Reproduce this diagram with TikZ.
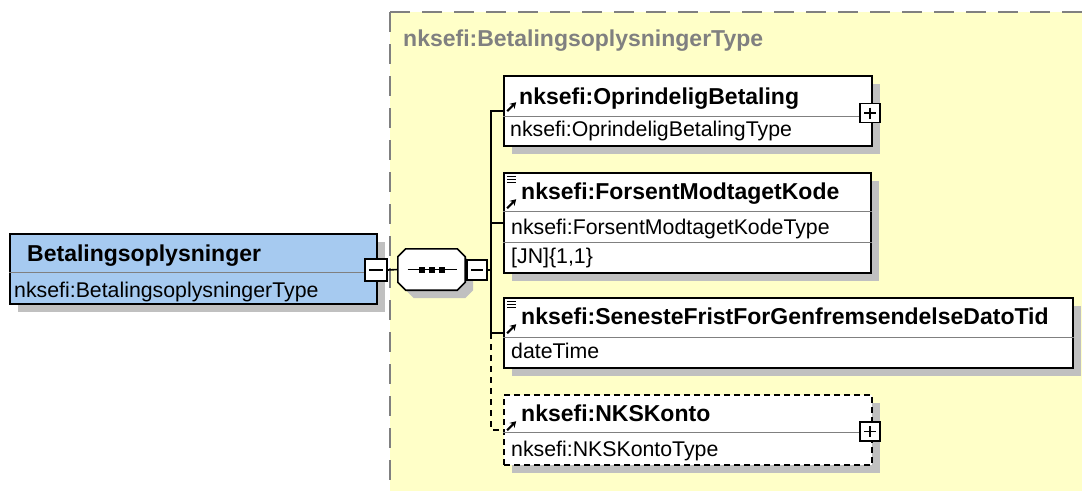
\documentclass[tikz,border=0pt]{standalone}
\usepackage{fontspec}
\setsansfont{Liberation Sans}
\usepackage{tikz}
\usetikzlibrary{shadows, arrows.meta, positioning}
\definecolor{elemblue}{RGB}{166,202,240}
\definecolor{paleyellow}{RGB}{255,255,200}
\definecolor{shadowgray}{RGB}{192,192,192}
\definecolor{framegray}{RGB}{128,128,128}
\tikzstyle{conn} = [line width=1.6pt]
\tikzstyle{element} = [rectangle, draw=black, line width=1.6pt, fill=white, inner sep=0pt, drop shadow={shadow xshift=8pt, shadow yshift=-8pt, fill=shadowgray, opacity=1}]
\tikzstyle{divider} = [framegray, line width=1pt]
\tikzstyle{titletext} = [font=\sffamily\bfseries\fontsize{23}{26}\selectfont, inner sep=0pt, anchor=base west]
\tikzstyle{typetext} = [font=\sffamily\fontsize{21.3}{24}\selectfont, inner sep=0pt, anchor=base west]
\tikzstyle{refmark} = [-{Stealth[length=6pt,width=7pt]}, line width=2.2pt]
\tikzstyle{simplemark} = [line width=1.4pt]

\begin{document}
\begin{tikzpicture}[x=1pt, y=-1pt,
        minusbox/.style={
            rectangle, draw=black, line width=1.2pt, fill=white,
            minimum width=20pt, minimum height=20pt, inner sep=0pt,
            path picture={\draw[line width=1.2pt] ([xshift=4pt]path picture bounding box.west) -- ([xshift=-4pt]path picture bounding box.east);}
        },
        plusbox/.style={
            rectangle, draw=black, line width=1.2pt, fill=white,
            minimum width=20pt, minimum height=19pt, inner sep=0pt,
            path picture={
                \draw[line width=1.2pt] ([xshift=4pt]path picture bounding box.west) -- ([xshift=-4pt]path picture bounding box.east);
                \draw[line width=1.2pt] ([yshift=-4pt]path picture bounding box.north) -- ([yshift=4pt]path picture bounding box.south);}
        },
        seqbox/.style={rectangle, minimum width=67pt, minimum height=41pt, inner sep=0pt}
    ]
        \useasboundingbox (0,0) rectangle (1082,491);

        % Complex type area
        \fill[paleyellow] (390,12) rectangle (1082,491);
        \draw[framegray, line width=2pt, dash pattern=on 20pt off 12pt] (390,12) -- (1082,12);
        \draw[framegray, line width=2pt, dash pattern=on 20pt off 12pt] (390,12) -- (390,491);
        \node[titletext, text=framegray] (typename) at (403,46) {nksefi:BetalingsoplysningerType};

        % Root element
        \node[element, fill=elemblue, minimum width=367pt, minimum height=70pt] (elem) at (193.5,269) {};
        \draw[divider] ([yshift=-39pt]elem.north west) -- ([yshift=-39pt]elem.north east);
        \node[titletext] (elemtitle) at (27,261) {Betalingsoplysninger};
        \node[typetext] (elemtype) at (14,297) {nksefi:BetalingsoplysningerType};
        \node[minusbox, minimum width=22pt, minimum height=22pt] (elemexp) at (376,270) {};

        % Sequence
        \node[seqbox] (seq) at (431.5,269.5) {};
        \begin{scope}[transform canvas={xshift=8pt, yshift=-8pt}]
        \fill[shadowgray]
            ([xshift=8pt]seq.north west) -- ([xshift=-8pt]seq.north east) -- ([yshift=-8pt]seq.north east)
            -- ([yshift=8pt]seq.south east) -- ([xshift=-8pt]seq.south east) -- ([xshift=8pt]seq.south west)
            -- ([yshift=8pt]seq.south west) -- ([yshift=-8pt]seq.north west) -- cycle;
        \end{scope}
        \draw[line width=1.6pt, fill=white]
            ([xshift=8pt]seq.north west) -- ([xshift=-8pt]seq.north east) -- ([yshift=-8pt]seq.north east)
            -- ([yshift=8pt]seq.south east) -- ([xshift=-8pt]seq.south east) -- ([xshift=8pt]seq.south west)
            -- ([yshift=8pt]seq.south west) -- ([yshift=-8pt]seq.north west) -- cycle;
        \draw[line width=1.2pt] ([xshift=-24pt]seq.center) -- ([xshift=25pt]seq.center);
        \foreach \dx in {-10,0,10}
            \fill ([xshift=\dx pt]seq.center) +(-3pt,-3pt) rectangle +(3pt,3pt);
        \node[minusbox] (seqexp) at (477,270) {};
        \coordinate (spine) at (491,270);

        % Child elements
        \node[element, minimum width=368pt, minimum height=70pt] (c1) at (688,111) {};
        \draw[divider] ([yshift=-41pt]c1.north west) -- ([yshift=-41pt]c1.north east);
        \draw[refmark] ([xshift=4pt,yshift=-36pt]c1.north west) -- ++(9pt,9pt);
        \node[titletext] (c1title) at (519,104) {nksefi:OprindeligBetaling};
        \node[typetext] (c1type) at (510,136) {nksefi:OprindeligBetalingType};
        \node[plusbox] (c1exp) at (870,113) {};

        \node[element, minimum width=367pt, minimum height=100pt] (c2) at (687.5,223) {};
        \draw[divider] ([yshift=-39pt]c2.north west) -- ([yshift=-39pt]c2.north east);
        \draw[divider] ([yshift=-70pt]c2.north west) -- ([yshift=-70pt]c2.north east);
        \foreach \dy in {4,7,10}
            \draw[simplemark] ([xshift=4pt,yshift=-\dy pt]c2.north west) -- ++(9pt,0pt);
        \draw[refmark] ([xshift=4pt,yshift=-36pt]c2.north west) -- ++(9pt,9pt);
        \node[titletext] (c2title) at (521,199) {nksefi:ForsentModtagetKode};
        \node[typetext] (c2type) at (511,234) {nksefi:ForsentModtagetKodeType};
        \node[typetext] (c2facet) at (511,263) {[JN]\{1,1\}};

        \node[element, minimum width=569pt, minimum height=70pt] (c3) at (788.5,333) {};
        \draw[divider] ([yshift=-40pt]c3.north west) -- ([yshift=-40pt]c3.north east);
        \foreach \dy in {4,7,10}
            \draw[simplemark] ([xshift=4pt,yshift=-\dy pt]c3.north west) -- ++(9pt,0pt);
        \draw[refmark] ([xshift=4pt,yshift=-36pt]c3.north west) -- ++(9pt,9pt);
        \node[titletext] (c3title) at (521,324) {nksefi:SenesteFristForGenfremsendelseDatoTid};
        \node[typetext] (c3type) at (511,358) {dateTime};

        \node[element, dash pattern=on 6pt off 4pt, minimum width=368pt, minimum height=70pt] (c4) at (688,430) {};
        \draw[divider] ([yshift=-38pt]c4.north west) -- ([yshift=-38pt]c4.north east);
        \draw[refmark] ([xshift=4pt,yshift=-36pt]c4.north west) -- ++(9pt,9pt);
        \node[titletext] (c4title) at (521,421) {nksefi:NKSKonto};
        \node[typetext] (c4type) at (511,456) {nksefi:NKSKontoType};
        \node[plusbox] (c4exp) at (870,431.5) {};

        % Connectors
        \draw[conn] (elemexp.east) -- (seq.west);
        \draw[conn] (seq.east) -- (seqexp.west);
        \draw[conn] (seqexp.east) -- (spine);
        \draw[conn] (c1.west) -- (spine |- c1.west) -- (spine |- c3.west) -- (c3.west);
        \draw[conn] (spine |- c2.west) -- (c2.west);
        \draw[conn, dash pattern=on 6pt off 5pt] (spine |- c3.west) -- (spine |- c4.west) -- (c4.west);
    \end{tikzpicture}
\end{document}
